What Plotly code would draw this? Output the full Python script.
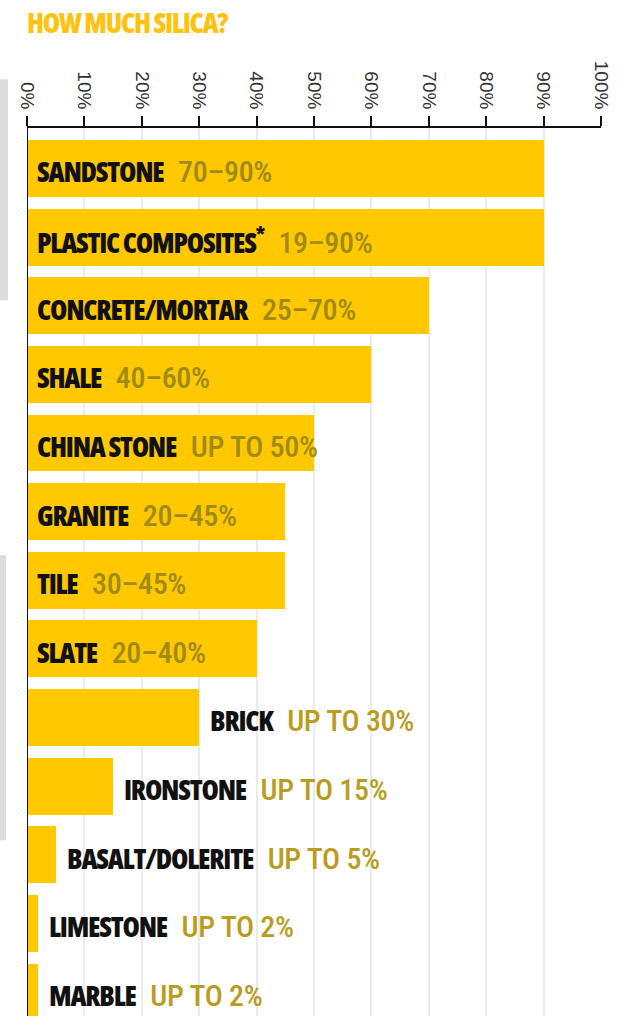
import plotly.graph_objects as go

materials = ["SANDSTONE", "PLASTIC COMPOSITES<sup>*</sup>", "CONCRETE/MORTAR", "SHALE",
             "CHINA STONE", "GRANITE", "TILE", "SLATE", "BRICK", "IRONSTONE",
             "BASALT/DOLERITE", "LIMESTONE", "MARBLE"]
max_silica = [90, 90, 70, 60, 50, 45, 45, 40, 30, 15, 5, 2, 2]
range_labels = ["70–90%", "19–90%", "25–70%", "40–60%", "UP TO 50%", "20–45%", "30–45%",
                "20–40%", "UP TO 30%", "UP TO 15%", "UP TO 5%", "UP TO 2%", "UP TO 2%"]
tick_vals = [0, 10, 20, 30, 40, 50, 60, 70, 80, 90, 100]
tick_text = ["0%", "10%", "20%", "30%", "40%", "50%", "60%", "70%", "80%", "90%", "100%"]

BAR = "#FFC800"
NAME_STYLE = "font-family:Open Sans;font-stretch:75%;font-weight:800;letter-spacing:-1.2px"
PCT_STYLE = "font-family:Roboto Condensed;font-weight:500;font-size:30px;letter-spacing:-0.3px"

fig = go.Figure()
fig.add_trace(go.Bar(
    x=max_silica, y=list(range(len(materials))), orientation="h",
    marker=dict(color=BAR, line=dict(width=0)), width=0.83,
    hoverinfo="skip", showlegend=False,
))

annotations = []
for i, (name, v, r) in enumerate(zip(materials, max_silica, range_labels)):
    inside = v >= 40
    pct_col = "#A08A18" if inside else "#BA9C20"
    annotations.append(dict(
        x=0 if inside else v, y=i, xref="x", yref="y",
        xanchor="left", yanchor="middle", xshift=8 if inside else 9, yshift=-3,
        showarrow=False,
        text=(f"<span style='{NAME_STYLE}'>{name}</span>&nbsp; "
              f"<span style='color:{pct_col};{PCT_STYLE}'>{r}</span>"),
        font=dict(family="Open Sans, sans-serif", size=28, color="#111111"),
    ))

fig.update_layout(
    width=623, height=1016,
    margin=dict(l=27, r=22, t=128, b=0, pad=0),
    paper_bgcolor="white", plot_bgcolor="white",
    annotations=annotations,
    title=dict(text=f"<span style='{NAME_STYLE}'>HOW MUCH SILICA?</span>", x=27/623, xanchor="left",
               y=1 - 23/1016, yanchor="middle",
               font=dict(family="Open Sans, sans-serif", size=28, color="#FFC20E")),
    shapes=[
        dict(type="rect", xref="paper", yref="paper", x0=-27/574, x1=-19/574,
             y0=0.806, y1=1.055, fillcolor="#DCDCDC", line=dict(width=0), layer="below"),
        dict(type="rect", xref="paper", yref="paper", x0=-27/574, x1=-21/574,
             y0=0.198, y1=0.519, fillcolor="#DCDCDC", line=dict(width=0), layer="below"),
    ],
    bargap=0,
)

fig.update_xaxes(
    side="top", range=[0, 100], tickvals=tick_vals, ticktext=tick_text,
    tickangle=90, ticks="outside", ticklen=10, tickwidth=2, tickcolor="#111",
    showline=True, linecolor="#111", linewidth=2,
    showgrid=True, gridcolor="#EBEBEB", gridwidth=2, zeroline=False,
    tickfont=dict(family="Liberation Sans, Arial, sans-serif", size=19, color="#333"),
)
fig.update_yaxes(
    range=[12.35, -0.59], showticklabels=False, ticks="", showgrid=False,
    zeroline=False, showline=False,
)
fig.add_vline(x=0, line=dict(color="#111", width=2))

fig.write_html("out.html")
